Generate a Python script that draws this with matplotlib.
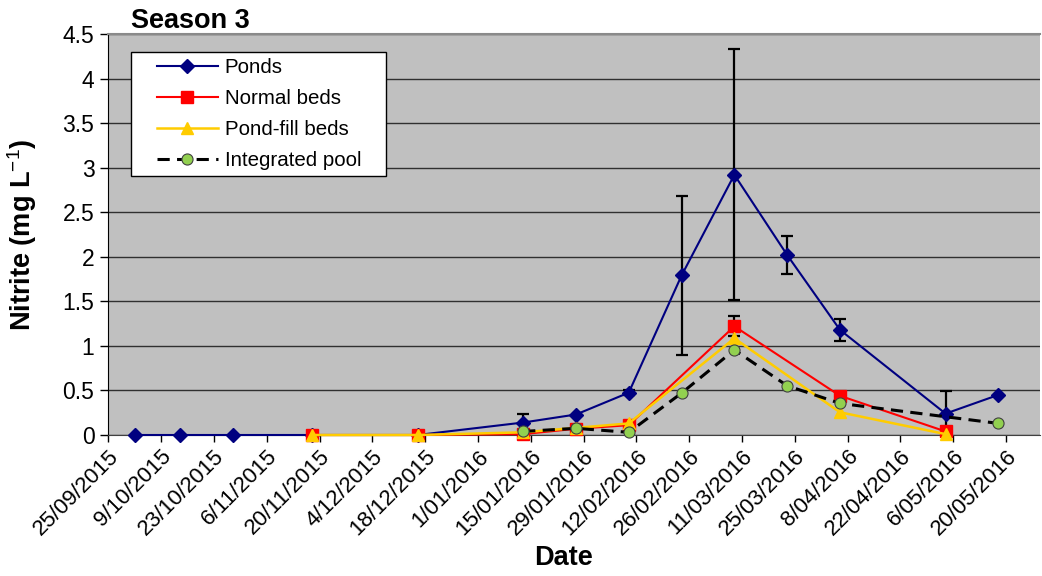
import matplotlib
matplotlib.use("Agg")
import matplotlib.pyplot as plt
import matplotlib.dates as mdates
import matplotlib.transforms as mtransforms
from matplotlib.patches import Rectangle
import pandas as pd
import numpy as np

plt.rcParams['font.family'] = ['Liberation Sans', 'DejaVu Sans']
plt.rcParams['mathtext.fontset'] = 'custom'
plt.rcParams['mathtext.rm'] = 'Liberation Sans'
plt.rcParams['mathtext.bf'] = 'Liberation Sans:bold'

# ---- data -------------------------------------------------------------
tick_labels = ["25/09/2015", "9/10/2015", "23/10/2015", "6/11/2015",
               "20/11/2015", "4/12/2015", "18/12/2015", "1/01/2016",
               "15/01/2016", "29/01/2016", "12/02/2016", "26/02/2016",
               "11/03/2016", "25/03/2016", "8/04/2016", "22/04/2016",
               "6/05/2016", "20/05/2016"]
y_ticks = [0, 0.5, 1, 1.5, 2, 2.5, 3, 3.5, 4, 4.5]
y_tick_labels = ["0", "0.5", "1", "1.5", "2", "2.5", "3", "3.5", "4", "4.5"]

ponds_dates = ["2015-10-02", "2015-10-14", "2015-10-28", "2015-11-18",
               "2015-12-16", "2016-01-13", "2016-01-27", "2016-02-10",
               "2016-02-24", "2016-03-09", "2016-03-23", "2016-04-06",
               "2016-05-04", "2016-05-18"]
ponds_values = [0, 0, 0, 0, 0, 0.14, 0.23, 0.475, 1.79, 2.92, 2.02, 1.18, 0.24, 0.45]
ponds_err = [0, 0, 0, 0, 0, 0.10, 0, 0.03, 0.89, 1.41, 0.21, 0.125, 0.25, 0]

normal_dates = ["2015-11-18", "2015-12-16", "2016-01-13", "2016-01-27",
                "2016-02-10", "2016-03-09", "2016-04-06", "2016-05-04"]
normal_values = [0, 0, 0.01, 0.07, 0.11, 1.22, 0.44, 0.04]
normal_err = [0, 0, 0, 0, 0, 0.11, 0, 0]

pondfill_dates = ["2015-11-18", "2015-12-16", "2016-01-13", "2016-01-27",
                  "2016-02-10", "2016-03-09", "2016-04-06", "2016-05-04"]
pondfill_values = [0, 0, 0.03, 0.08, 0.13, 1.085, 0.255, 0.01]

pool_dates = ["2016-01-13", "2016-01-27", "2016-02-10", "2016-02-24",
              "2016-03-09", "2016-03-23", "2016-04-06", "2016-05-18"]
pool_values = [0.04, 0.075, 0.03, 0.47, 0.955, 0.553, 0.355, 0.13]

# ---- figure -----------------------------------------------------------
W, H = 1042, 576
fig = plt.figure(figsize=(W / 100, H / 100), dpi=100)
ax_left, ax_right, ax_top, ax_bottom = 108.3, 1040, 34, 435
ax = fig.add_axes([ax_left / W, 1 - ax_bottom / H,
                   (ax_right - ax_left) / W, (ax_bottom - ax_top) / H])
ax.set_facecolor('#C0C0C0')


def to_dates(values):
    return pd.to_datetime(values).to_pydatetime()


def draw_errors(dates, values, errs):
    d = np.array(to_dates(dates))
    v = np.array(values, dtype=float)
    e = np.array(errs, dtype=float)
    m = e > 0
    ax.errorbar(d[m], v[m], yerr=e[m], fmt='none', ecolor='black',
                elinewidth=1.6, capsize=4, capthick=1.6, zorder=2.5)


draw_errors(ponds_dates, ponds_values, ponds_err)
draw_errors(normal_dates, normal_values, normal_err)

ax.plot(to_dates(ponds_dates), ponds_values, color='#000080', lw=1.5,
        marker='D', markersize=7, markerfacecolor='#000080',
        markeredgecolor='#000080', label='Ponds', zorder=3, clip_on=False)
ax.plot(to_dates(normal_dates), normal_values, color='#FF0000', lw=1.5,
        marker='s', markersize=8, markerfacecolor='#FF0000',
        markeredgecolor='#FF0000', label='Normal beds', zorder=3.1,
        clip_on=False)
ax.plot(to_dates(pondfill_dates), pondfill_values, color='#FFCC00', lw=1.8,
        marker='^', markersize=8.5, markerfacecolor='#FFCC00',
        markeredgecolor='#FFCC00', label='Pond-fill beds', zorder=3.2,
        clip_on=False)
ax.plot(to_dates(pool_dates), pool_values, color='black', lw=2.2,
        dashes=(4, 2.4), marker='o', markersize=8,
        markerfacecolor='#92D050', markeredgecolor='#404040',
        markeredgewidth=0.8, label='Integrated pool', zorder=3.3,
        clip_on=False)

# ---- axes -------------------------------------------------------------
tick_dates = pd.to_datetime(tick_labels, format="%d/%m/%Y")
x0 = mdates.date2num(tick_dates[0].to_pydatetime())
span_days = (ax_right - ax_left) / (52.8 / 14)
ax.set_xlim(x0, x0 + span_days)
ax.set_xticks(mdates.date2num(tick_dates.to_pydatetime()))
ax.set_xticklabels(tick_labels, rotation=45, ha='right',
                   rotation_mode='anchor', fontsize=16)
shift = mtransforms.ScaledTranslation(6 / 100, -2 / 100, fig.dpi_scale_trans)
for lbl in ax.get_xticklabels():
    lbl.set_transform(lbl.get_transform() + shift)
ax.set_ylim(0, 4.5)
ax.set_yticks(y_ticks)
ax.set_yticklabels(y_tick_labels, fontsize=16.5)

ax.tick_params(axis='x', direction='out', length=5, width=1, pad=3,
               color='black')
ax.tick_params(axis='y', direction='out', length=6, width=1, pad=4,
               color='black')

ax.grid(axis='y', color='#303030', lw=1.0, zorder=1)
ax.set_axisbelow(True)
ax.spines['right'].set_visible(False)
ax.spines['top'].set_color('#8A8A8A')
ax.spines['top'].set_linewidth(1.5)
ax.spines['left'].set_color('black')
ax.spines['bottom'].set_color('#404040')

ax.set_ylabel('Nitrite (mg L$^{\\mathrm{-1}}$)', fontsize=19.5,
              fontweight='bold')
ax.yaxis.label.set_va('center')
ax.yaxis.set_label_coords(-(ax_left - 22) / (ax_right - ax_left), 0.5)
ax.set_xlabel('Date', fontsize=19.5, fontweight='bold')
ax.xaxis.label.set_va('center')
ax.xaxis.set_label_coords((564 - ax_left) / (ax_right - ax_left),
                          -(558 - ax_bottom) / (ax_bottom - ax_top))

fig.text(131 / W, 1 - 28 / H, 'Season 3', fontsize=19.5,
         fontweight='bold', ha='left', va='baseline')

# legend: entries placed without a frame, then a white box drawn behind
# them with wider side padding
leg_fs = 14.8
leg = ax.legend(loc='upper left',
                bbox_to_anchor=(157 / W, 1 - 58 / H),
                bbox_transform=fig.transFigure,
                fontsize=leg_fs, frameon=False, borderaxespad=0,
                borderpad=0, handlelength=2.95, handletextpad=0.34,
                labelspacing=0.59)
leg.set_zorder(6)
fig.canvas.draw()
bb = leg.get_window_extent(fig.canvas.get_renderer())
pad_l, pad_r, pad_t, pad_b = 26, 25, 6, 6
frame = Rectangle((bb.x0 - pad_l, bb.y0 - pad_b),
                  bb.width + pad_l + pad_r, bb.height + pad_t + pad_b,
                  transform=mtransforms.IdentityTransform(),
                  facecolor='white', edgecolor='black',
                  linewidth=1.0, zorder=5, clip_on=False)
ax.add_artist(frame)

fig.savefig('out.png', dpi=100)
